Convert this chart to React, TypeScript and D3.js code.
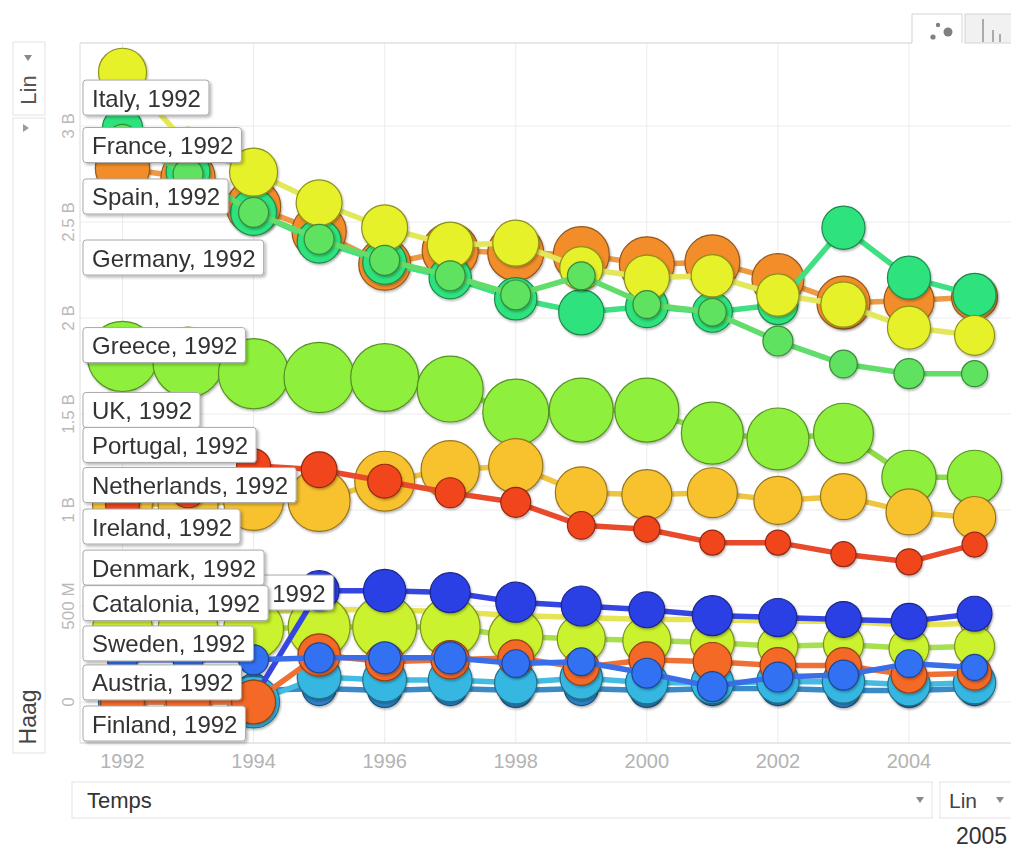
import React from 'react';
import * as d3 from 'd3';

const FONT = '"Liberation Sans", Arial, Helvetica, sans-serif';

const years = [1992, 1993, 1994, 1995, 1996, 1997, 1998, 1999, 2000, 2001, 2002, 2003, 2004, 2005];

// Y values in billions ("Haag")
const spainValues = [2.78, 2.73, 2.58, 2.45, 2.28, 2.35, 2.34, 2.33, 2.28, 2.29, 2.20, 2.08, 2.09, 2.11];
const franceValues = [2.99, 2.76, 2.55, 2.40, 2.29, 2.21, 2.10, 2.03, 2.06, 2.03, 2.07, 2.47, 2.21, 2.12];
const italyValues = [3.28, 2.90, 2.76, 2.60, 2.47, 2.38, 2.39, 2.26, 2.21, 2.22, 2.12, 2.07, 1.95, 1.91];
const germanyValues = [2.93, 2.75, 2.55, 2.41, 2.30, 2.22, 2.12, 2.22, 2.07, 2.03, 1.88, 1.76, 1.71, 1.71];
const greeceValues = [1.80, 1.77, 1.71, 1.69, 1.69, 1.63, 1.51, 1.52, 1.52, 1.40, 1.37, 1.40, 1.17, 1.17];
const portugalValues = [1.03, 1.03, 1.05, 1.05, 1.15, 1.21, 1.23, 1.09, 1.08, 1.09, 1.05, 1.07, 0.99, 0.96];
const irelandValues = [1.03, 1.10, 1.23, 1.21, 1.15, 1.09, 1.04, 0.92, 0.90, 0.83, 0.83, 0.77, 0.73, 0.82];
const austriaValues = [0.06, 0.06, 0.06, 0.07, 0.06, 0.07, 0.06, 0.07, 0.06, 0.07, 0.07, 0.06, 0.06, 0.07];
const netherlandsValues = [0.0, 0.0, 0.0, 0.13, 0.115, 0.115, 0.10, 0.125, 0.10, 0.10, 0.105, 0.105, 0.09, 0.10];
const swedenValues = [0.45, 0.45, 0.47, 0.48, 0.48, 0.47, 0.45, 0.44, 0.43, 0.43, 0.42, 0.42, 0.40, 0.41];
const denmarkValues = [0.38, 0.38, 0.38, 0.39, 0.39, 0.39, 0.34, 0.33, 0.32, 0.31, 0.29, 0.30, 0.28, 0.29];
const belgiumValues = [0.02, 0.02, 0.02, 0.58, 0.58, 0.57, 0.52, 0.50, 0.48, 0.45, 0.44, 0.43, 0.42, 0.46];
const finlandValues = [0.0, 0.0, 0.0, 0.245, 0.21, 0.22, 0.23, 0.18, 0.22, 0.21, 0.19, 0.19, 0.14, 0.15];
const cataloniaValues = [0.22, 0.22, 0.22, 0.23, 0.23, 0.23, 0.20, 0.21, 0.15, 0.08, 0.13, 0.14, 0.20, 0.18];

// bubble size values
const spainSizes = [46, 46, 46, 46, 42, 49, 49, 49, 47, 47, 42, 44, 39, 33];
const franceSizes = [25, 30, 33, 30, 30, 28, 28, 32, 28, 25, 25, 29, 29, 29];
const italySizes = [36, 20, 36, 33, 33, 33, 33, 29, 32, 28, 28, 32, 29, 25];
const germanySizes = [14, 14, 14, 14, 14, 14, 14, 12, 12, 12, 14, 12, 14, 10.6];
const greeceSizes = [77, 77, 77, 77, 72, 68, 68, 64, 64, 60, 60, 56, 46, 46];
const portugalSizes = [56, 56, 56, 60, 56, 53, 46, 42, 39, 39, 36, 33, 33, 28];
const irelandSizes = [18, 18, 18, 20, 18, 14, 14, 12, 10.6, 9.8, 9.8, 9.8, 10.6, 9.8];
const austriaSizes = [18, 18, 18, 18, 18, 18, 18, 18, 18, 18, 18, 18, 18, 18];
const netherlandsSizes = [36, 36, 42, 30, 30, 30, 28, 28, 28, 28, 28, 28, 28, 28];
const swedenSizes = [12, 12, 12, 12, 12, 12, 12, 12, 12, 12, 12, 12, 12, 12];
const denmarkSizes = [56, 56, 56, 60, 64, 56, 46, 36, 36, 30, 25, 25, 25, 25];
const belgiumSizes = [20, 20, 20, 25, 28, 25, 25, 25, 20, 25, 22.6, 20, 20, 19];
const finlandSizes = [30, 30, 30, 28, 23, 23, 20, 20, 20, 23, 20, 20, 20, 18];
const cataloniaSizes = [14, 14, 14, 14, 16, 16, 12, 12, 14, 14, 14, 14, 12, 10.6];

// label stack (name, anchor value in billions)
const labelNames = ['Italy', 'France', 'Spain', 'Germany', 'Greece', 'UK', 'Portugal', 'Netherlands', 'Ireland', 'Denmark', 'Catalonia', 'Sweden', 'Austria', 'Finland'];
const labelValues = [3.148, 2.901, 2.633, 2.315, 1.859, 1.521, 1.339, 1.130, 0.914, 0.70, 0.515, 0.305, 0.102, -0.112];
const hiddenLabelName = 'Belgium';
const hiddenLabelValue = 0.57;
const labelYear = 1992;

const xTicks = [1992, 1994, 1996, 1998, 2000, 2002, 2004];
const yTicks = [0, 0.5, 1, 1.5, 2, 2.5, 3];
const yTickLabels = ['0', '500 M', '1 B', '1.5 B', '2 B', '2.5 B', '3 B'];

const seriesDefs = [
  { name: 'Spain', values: spainValues, sizes: spainSizes, fill: '#f28d2c', line: '#ee9a45' },
  { name: 'France', values: franceValues, sizes: franceSizes, fill: '#2ee37e', line: '#3fe083' },
  { name: 'Italy', values: italyValues, sizes: italySizes, fill: '#e6f12b', line: '#e3e85a' },
  { name: 'Germany', values: germanyValues, sizes: germanySizes, fill: '#5ee25e', line: '#62dc6a' },
  { name: 'Greece', values: greeceValues, sizes: greeceSizes, fill: '#8ef03c', line: '#8edc48' },
  { name: 'Portugal', values: portugalValues, sizes: portugalSizes, fill: '#f8c22f', line: '#eec441' },
  { name: 'Ireland', values: irelandValues, sizes: irelandSizes, fill: '#f1441f', line: '#e84a2b' },
  { name: 'Austria', values: austriaValues, sizes: austriaSizes, fill: '#2b84c6', line: '#3a8ac8' },
  { name: 'Netherlands', values: netherlandsValues, sizes: netherlandsSizes, fill: '#34b7e2', line: '#44bbe2' },
  { name: 'Sweden', values: swedenValues, sizes: swedenSizes, fill: '#e8e63a', line: '#e6e454' },
  { name: 'Denmark', values: denmarkValues, sizes: denmarkSizes, fill: '#caf22d', line: '#a6e04e' },
  { name: 'Belgium', values: belgiumValues, sizes: belgiumSizes, fill: '#2c3fe4', line: '#3445e0' },
  { name: 'Finland', values: finlandValues, sizes: finlandSizes, fill: '#f46928', line: '#ee7034' },
  { name: 'Catalonia', values: cataloniaValues, sizes: cataloniaSizes, fill: '#3272f2', line: '#3a6ee6' },
];

let measureCtx: CanvasRenderingContext2D | null = null;
function textWidth(t: string, size: number): number {
  if (!measureCtx && typeof document !== 'undefined') {
    measureCtx = document.createElement('canvas').getContext('2d');
  }
  if (!measureCtx) return t.length * size * 0.55;
  measureCtx.font = `${size}px ${FONT}`;
  return measureCtx.measureText(t).width;
}

export default function App() {
  const W = 1011;
  const H = 850;
  const left = 80;
  const top = 43;
  const bottom = 743;
  const right = 1011;

  const x = d3.scaleLinear().domain([1992, 2004]).range([122.5, 909]);
  const y = d3.scaleLinear().domain([0, 3]).range([702, 126]);
  const rs = d3.scaleSqrt().domain([0, 100]).range([0, 40]);
  const line = d3
    .line<[number, number]>()
    .x((d) => x(d[0]))
    .y((d) => y(d[1]));

  const labelFont = 24;
  const boxH = 35;

  const renderLabel = (text: string, cy: number, boxLeft: number | null, boxRight: number | null, key: string, shownText?: string) => {
    const w = textWidth(text, labelFont);
    const bw = w + 17;
    const bx = boxLeft !== null ? boxLeft : (boxRight as number) - bw;
    return (
      <g key={key} filter="url(#lblShadow)">
        <rect x={bx} y={cy - boxH / 2} width={bw} height={boxH} rx={3} fill="#ffffff" stroke="#a9a9a9" strokeWidth={1} />
        {shownText ? (
          <text x={bx + bw - 8} y={cy + 9} fontSize={labelFont} fill="#333" textAnchor="end" fontFamily={FONT}>
            {shownText}
          </text>
        ) : (
          <text x={bx + 9} y={cy + 9} fontSize={labelFont} fill="#333" fontFamily={FONT}>
            {text}
          </text>
        )}
      </g>
    );
  };

  return (
    <svg width={W} height={H} style={{ position: 'absolute', left: 0, top: 0, background: '#fff' }} fontFamily={FONT}>
      <defs>
        <filter id="lblShadow" x="-10%" y="-30%" width="130%" height="180%">
          <feDropShadow dx="2" dy="2" stdDeviation="1.6" floodColor="#000" floodOpacity="0.28" />
        </filter>
        <filter id="bubShadow" x="-30%" y="-30%" width="170%" height="170%">
          <feDropShadow dx="1" dy="1.5" stdDeviation="1.2" floodColor="#000" floodOpacity="0.3" />
        </filter>
      </defs>
      <rect x={0} y={0} width={W} height={H} fill="#fff" />

      {/* top-right chart type tabs */}
      <path d={`M912,${top} L912,14 L962,14 L962,${top}`} fill="#fff" stroke="#d4d4d4" />
      <rect x={965} y={14} width={50} height={29} fill="#f1f1f1" stroke="#d4d4d4" />
      <circle cx={938} cy={25} r={2.2} fill="#808080" />
      <circle cx={933} cy={37} r={2.6} fill="#808080" />
      <circle cx={948} cy={32} r={4.5} fill="#808080" />
      <line x1={983} y1={19} x2={983} y2={42} stroke="#9a9a9a" strokeWidth={1.6} />
      <line x1={993} y1={30} x2={993} y2={42} stroke="#9a9a9a" strokeWidth={1.6} />
      <line x1={1000} y1={34} x2={1000} y2={42} stroke="#9a9a9a" strokeWidth={1.6} />

      {/* grid */}
      {yTicks.map((v) => (
        <line key={'gy' + v} x1={left} x2={right} y1={y(v)} y2={y(v)} stroke="#ececec" strokeWidth={1} />
      ))}
      {xTicks.map((v) => (
        <line key={'gx' + v} x1={x(v)} x2={x(v)} y1={top} y2={bottom} stroke="#ececec" strokeWidth={1} />
      ))}
      {/* plot frame */}
      <line x1={left} x2={912} y1={top} y2={top} stroke="#d2d2d2" />
      <line x1={left} x2={left} y1={top} y2={bottom} stroke="#dcdcdc" />
      <line x1={left} x2={right} y1={bottom} y2={bottom} stroke="#d2d2d2" />

      {/* y tick labels */}
      {yTicks.map((v, i) => (
        <text
          key={'yt' + v}
          transform={`translate(74,${y(v)}) rotate(-90)`}
          textAnchor="middle"
          fontSize={17}
          fill="#b9b9b9"
        >
          {yTickLabels[i]}
        </text>
      ))}
      {/* x tick labels */}
      {xTicks.map((v) => (
        <text key={'xt' + v} x={x(v)} y={768} textAnchor="middle" fontSize={20} fill="#b3b3b3">
          {String(v)}
        </text>
      ))}

      {/* series: trail then bubbles */}
      {seriesDefs.map((s) => {
        const pts: [number, number][] = years.map((yr, i) => [yr, s.values[i]]);
        const stroke = d3.color(s.fill)!.darker(1.4).formatHex();
        return (
          <g key={s.name}>
            <path d={line(pts) || ''} fill="none" stroke={s.line} strokeWidth={5.5} strokeLinejoin="round" strokeLinecap="round" />
            {pts.map((p, i) => (
              <circle
                key={i}
                cx={x(p[0])}
                cy={y(p[1])}
                r={rs(s.sizes[i])}
                fill={s.fill}
                stroke={stroke}
                strokeWidth={1.2}
                filter="url(#bubShadow)"
              />
            ))}
          </g>
        );
      })}

      {/* labels */}
      {renderLabel(`${hiddenLabelName}, ${labelYear}`, y(hiddenLabelValue), null, x(1995) + 14.5, 'hidden', String(labelYear))}
      {labelNames.map((n, i) => renderLabel(`${n}, ${labelYear}`, y(labelValues[i]), 83, null, 'lbl' + i))}

      {/* left axis controls */}
      <rect x={13} y={42} width={32} height={73} fill="#fff" stroke="#e3e3e3" />
      <path d="M24,55 L32,55 L28,61 Z" fill="#8a8a8a" />
      <text transform="translate(36,90) rotate(-90)" textAnchor="middle" fontSize={22} fill="#555">
        Lin
      </text>
      <rect x={13} y={118} width={32} height={635} fill="none" stroke="#e3e3e3" />
      <path d="M23,124 L23,132 L29,128 Z" fill="#9a9a9a" />
      <text transform="translate(36,717) rotate(-90)" textAnchor="middle" fontSize={23} fill="#444">
        Haag
      </text>

      {/* bottom controls */}
      <rect x={72} y={782} width={860} height={36} fill="#fff" stroke="#e3e3e3" />
      <text x={87} y={808} fontSize={22} fill="#333">
        Temps
      </text>
      <path d="M916,797 L924,797 L920,803 Z" fill="#8a8a8a" />
      <rect x={940} y={782} width={80} height={36} fill="#fff" stroke="#e3e3e3" />
      <text x={949} y={808} fontSize={21} fill="#444">
        Lin
      </text>
      <path d="M996,797 L1004,797 L1000,803 Z" fill="#8a8a8a" />
      <text x={956} y={844} fontSize={23} fill="#333">
        2005
      </text>
    </svg>
  );
}
